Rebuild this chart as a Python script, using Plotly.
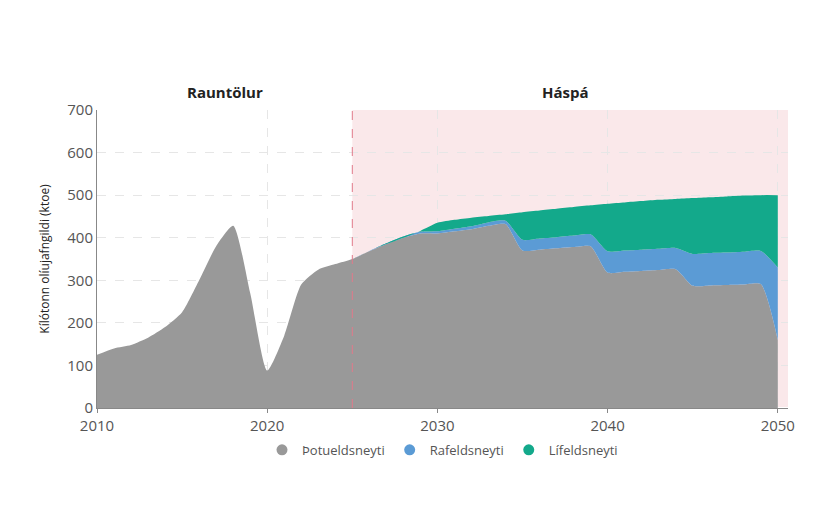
import plotly.graph_objects as go

years = list(range(2010, 2051))
fossil = [125, 140, 148, 165, 190, 225, 300, 380, 428, 270, 88, 170, 290, 325, 338, 350,
          368, 385, 400, 410, 410, 415, 420, 428, 432, 370, 372, 375, 378, 380,
          318, 320, 322, 324, 326, 287, 288, 289, 290, 291, 160]
electric = [0] * 15 + [0, 1, 2, 3, 4, 5, 6, 7, 8, 8, 25, 26, 26, 27, 28,
                       50, 50, 50, 50, 50, 75, 76, 76, 77, 78, 170]
total = [None] * 15 + [350, 369, 385, 400, 416, 435, 442, 447, 451, 455, 460, 464, 468, 472, 476,
                       480, 483, 486, 489, 491, 493, 495, 497, 499, 500, 500]
bio = [0 if t is None else round(t - f - e, 1) for t, f, e in zip(total, fossil, electric)]

fig = go.Figure()
fig.add_vrect(x0=2025, x1=2050.6, fillcolor="rgba(240,190,195,0.35)", line_width=0, layer="below")
fig.add_vline(x=2025, line=dict(color="#e07a8a", dash="dash", width=1))
series = [("Þotueldsneyti", fossil, "#999999"),
          ("Rafeldsneyti", electric, "#5b9bd5"),
          ("Lífeldsneyti", bio, "#13a98b")]
for name, vals, col in series:
    fig.add_trace(go.Scatter(x=years, y=vals, name=name, stackgroup="one", mode="lines",
                             line=dict(width=0, shape="spline", smoothing=0.6, color=col),
                             fillcolor=col, showlegend=False))
# legend entries with round markers
for name, vals, col in series:
    fig.add_trace(go.Scatter(x=[None], y=[None], name=name, mode="markers",
                             marker=dict(symbol="circle", size=11, color=col)))

fig.add_annotation(x=2017.5, y=1.02, yref="paper", text="<b>Rauntölur</b>", showarrow=False,
                   yanchor="bottom", font=dict(size=15, color="#222"))
fig.add_annotation(x=2037.5, y=1.02, yref="paper", text="<b>Háspá</b>", showarrow=False,
                   yanchor="bottom", font=dict(size=15, color="#222"))

fig.update_layout(
    width=820, height=530, plot_bgcolor="white", paper_bgcolor="white",
    font=dict(family="Open Sans", color="#555"),
    margin=dict(l=89, r=40, t=102, b=130),
    xaxis=dict(range=[2010, 2050.6], tickvals=[2010, 2020, 2030, 2040, 2050], showgrid=True,
               gridcolor="#e6e6e6", griddash="dash", showline=True, linecolor="#888",
               tickfont=dict(size=15), ticks="outside", ticklen=4, tickcolor="#888"),
    yaxis=dict(range=[0, 700], dtick=100, showgrid=True, gridcolor="#e6e6e6", griddash="dash",
               showline=True, linecolor="#888", tickfont=dict(size=15),
               title=dict(text="Kílótonn olíujafngildi (ktoe)", font=dict(size=12, color="#222"))),
    legend=dict(orientation="h", x=0.5, xanchor="center", y=-0.09, yanchor="top",
                traceorder="normal", font=dict(size=13), itemwidth=30),
)
fig.write_html("out.html")
